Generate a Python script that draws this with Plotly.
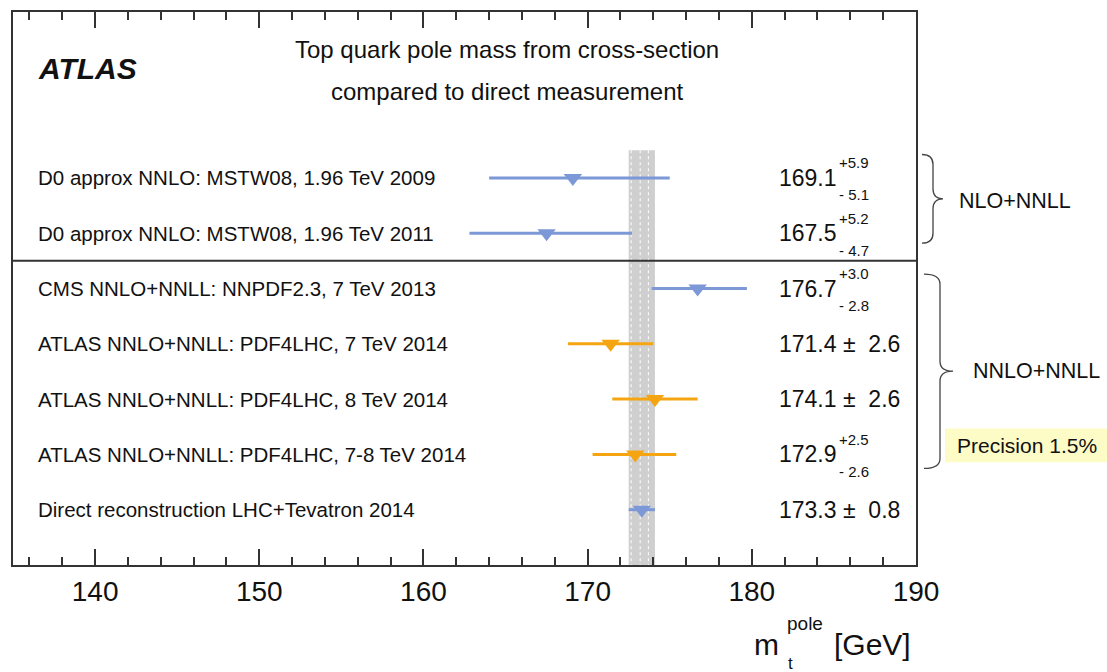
import plotly.graph_objects as go

# Measurements of the top-quark pole mass (GeV)
labels = [
    "D0 approx NNLO: MSTW08, 1.96 TeV 2009",
    "D0 approx NNLO: MSTW08, 1.96 TeV 2011",
    "CMS NNLO+NNLL: NNPDF2.3, 7 TeV 2013",
    "ATLAS NNLO+NNLL: PDF4LHC, 7 TeV 2014",
    "ATLAS NNLO+NNLL: PDF4LHC, 8 TeV 2014",
    "ATLAS NNLO+NNLL: PDF4LHC, 7-8 TeV 2014",
    "Direct reconstruction LHC+Tevatron 2014",
]
mass = [169.1, 167.5, 176.7, 171.4, 174.1, 172.9, 173.3]
err_up = [5.9, 5.2, 3.0, 2.6, 2.6, 2.5, 0.8]
err_dn = [5.1, 4.7, 2.8, 2.6, 2.6, 2.6, 0.8]
group = ["other", "other", "other", "atlas", "atlas", "atlas", "other"]
tick_vals = [140, 150, 160, 170, 180, 190]

BLUE = "#7d98d6"
ORANGE = "#f5a511"
FONT = "Liberation Sans, Arial, Helvetica, sans-serif"

W, H = 1107, 672
L, R, T, B = 13, 916, 10, 565  # plot-area pixel box


def px2x(px):
    return (px - L) / (R - L)


def py2y(py):
    return 1 - (py - T) / (B - T)


rows = list(range(len(labels)))
fig = go.Figure()

for grp, color in (("other", BLUE), ("atlas", ORANGE)):
    idx = [i for i in rows if group[i] == grp]
    fig.add_trace(go.Scatter(
        x=[mass[i] for i in idx],
        y=[rows[i] for i in idx],
        mode="markers",
        marker=dict(symbol="triangle-down", size=16, color=color),
        error_x=dict(type="data", symmetric=False,
                     array=[err_up[i] for i in idx],
                     arrayminus=[err_dn[i] for i in idx],
                     color=color, thickness=3, width=0),
        showlegend=False, hoverinfo="skip",
    ))

# Band of the direct measurement
direct = len(labels) - 1
band_lo, band_hi = mass[direct] - err_dn[direct], mass[direct] + err_up[direct]
shapes = [
    dict(type="rect", xref="x", yref="y", x0=band_lo, x1=band_hi, y0=-0.5, y1=7,
         fillcolor="#cfcfcf", line=dict(width=0), layer="below"),
]
for xv in (band_lo + 0.15, mass[direct] - 0.1, mass[direct] + 0.4):
    shapes.append(dict(type="line", xref="x", yref="y", x0=xv, x1=xv, y0=-0.5, y1=7,
                       line=dict(color="white", width=1, dash="dot"), layer="below"))

# separator between the two theory groups
shapes.append(dict(type="line", xref="paper", yref="y", x0=0, x1=1, y0=1.5, y1=1.5,
                   line=dict(color="#333333", width=2)))


def brace_path(x_left, x_spine, x_tip, y_top, y_bot):
    ym = (y_top + y_bot) / 2
    r = 10
    pts = [
        f"M {px2x(x_left)},{py2y(y_top)}",
        f"Q {px2x(x_spine)},{py2y(y_top)} {px2x(x_spine)},{py2y(y_top + r)}",
        f"L {px2x(x_spine)},{py2y(ym - r)}",
        f"Q {px2x(x_spine)},{py2y(ym)} {px2x(x_tip)},{py2y(ym)}",
        f"Q {px2x(x_spine)},{py2y(ym)} {px2x(x_spine)},{py2y(ym + r)}",
        f"L {px2x(x_spine)},{py2y(y_bot - r)}",
        f"Q {px2x(x_spine)},{py2y(y_bot)} {px2x(x_left)},{py2y(y_bot)}",
    ]
    return " ".join(pts)


shapes.append(dict(type="path", xref="paper", yref="paper",
                   path=brace_path(922, 933, 943, 153, 242),
                   line=dict(color="#444444", width=1.3)))
shapes.append(dict(type="path", xref="paper", yref="paper",
                   path=brace_path(924, 940, 953, 273, 468),
                   line=dict(color="#444444", width=1.3)))

# highlighted precision box
shapes.append(dict(type="rect", xref="paper", yref="paper",
                   x0=px2x(945), x1=px2x(1110), y0=py2y(462), y1=py2y(428),
                   fillcolor="#fdfbc6", line=dict(width=0)))

ann = []


def text(x, y, s, size, xanchor="left", xref="paper", yref="paper", yshift=0, **kw):
    ann.append(dict(x=x, y=y, xref=xref, yref=yref, text=s, showarrow=False,
                    xanchor=xanchor, yanchor="middle", yshift=yshift,
                    font=dict(family=FONT, size=size, color="#111111"), **kw))


text(px2x(36), py2y(67), "<b><i>ATLAS</i></b>", 30)
text(px2x(507), py2y(48), "Top quark pole mass from cross-section", 24, xanchor="center")
text(px2x(507), py2y(90), "compared to direct measurement", 24, xanchor="center")

for i in rows:
    text(px2x(36), rows[i], labels[i], 20.5, yref="y")
    if abs(err_up[i] - err_dn[i]) < 1e-9:
        text(px2x(777), rows[i], f"{mass[i]:.1f} \u00b1 \u00a0{err_up[i]:.1f}", 23, yref="y")
    else:
        text(px2x(777), rows[i], f"{mass[i]:.1f}", 23, yref="y")
        text(px2x(837), rows[i], f"+{err_up[i]:.1f}", 15, yref="y", yshift=15)
        text(px2x(837), rows[i], f"- {err_dn[i]:.1f}", 15, yref="y", yshift=-17)

text(px2x(957), py2y(200), "NLO+NNLL", 21.5)
text(px2x(971), py2y(370), "NNLO+NNLL", 21.5)
text(px2x(955), py2y(445), "Precision 1.5%", 21)

# axis title m_t^pole [GeV]
text(px2x(752), py2y(645), "m", 30)
text(px2x(785), py2y(624), "pole", 19)
text(px2x(786), py2y(664), "t", 17)
text(px2x(832), py2y(645), "[GeV]", 30)

fig.update_layout(
    width=W, height=H,
    margin=dict(l=L, r=W - R, t=T, b=H - B),
    paper_bgcolor="white", plot_bgcolor="white",
    shapes=shapes, annotations=ann,
    xaxis=dict(range=[135, 190], tickvals=tick_vals, ticks="inside", ticklen=16,
               tickwidth=1.5, tickcolor="#333333", showline=True, linewidth=2,
               linecolor="#333333", mirror="ticks", showgrid=False, zeroline=False,
               tickfont=dict(family=FONT, size=28, color="#111111"),
               minor=dict(dtick=2, tick0=136, ticks="inside", ticklen=8,
                          tickwidth=1.5, tickcolor="#333333", showgrid=False)),
    yaxis=dict(range=[7, -3], showticklabels=False, ticks="", showline=True,
               linewidth=2, linecolor="#333333", mirror=True, showgrid=False,
               zeroline=False),
)

fig.write_html("out.html")
